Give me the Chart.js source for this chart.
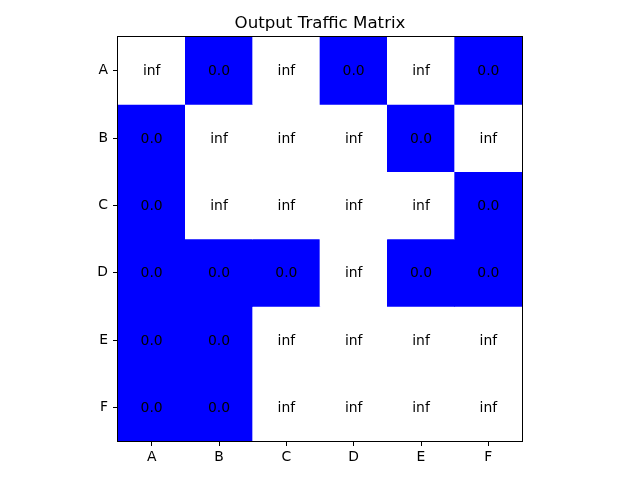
<!DOCTYPE html>
<html>
<head>
<meta charset="utf-8">
<script src="https://cdn.jsdelivr.net/npm/chart.js@4/dist/chart.umd.min.js"></script>
<style>
  html, body { margin: 0; padding: 0; background: #fff; }
  #chart { display: block; }
</style>
</head>
<body>
<canvas id="chart" width="640" height="480"></canvas>
<script>
// node labels (rows = source, columns = destination)
const rowLabels = ['A', 'B', 'C', 'D', 'E', 'F'];
const colLabels = ['A', 'B', 'C', 'D', 'E', 'F'];

// traffic values per row, Infinity shows as "inf"
const rowA = [Infinity, 0, Infinity, 0, Infinity, 0];
const rowB = [0, Infinity, Infinity, Infinity, 0, Infinity];
const rowC = [0, Infinity, Infinity, Infinity, Infinity, 0];
const rowD = [0, 0, 0, Infinity, 0, 0];
const rowE = [0, 0, Infinity, Infinity, Infinity, Infinity];
const rowF = [0, 0, Infinity, Infinity, Infinity, Infinity];
const matrix = [rowA, rowB, rowC, rowD, rowE, rowF];

const cellColor = v => (isFinite(v) ? '#0000ff' : '#ffffff');
const cellText = v => (isFinite(v) ? v.toFixed(1) : 'inf');

Chart.defaults.font.family = "'DejaVu Sans', sans-serif";
Chart.defaults.color = '#000';

// one floating-bar dataset per row, spanning [r, r+1] on the y scale
const datasets = matrix.map((row, r) => ({
  label: rowLabels[r],
  data: row.map(() => [r, r + 1]),
  backgroundColor: row.map(cellColor),
  borderWidth: 0,
  grouped: false,
  barPercentage: 1,
  categoryPercentage: 1
}));

const cellLabels = {
  id: 'cellLabels',
  afterDatasetsDraw(chart) {
    const { ctx, scales: { x, y } } = chart;
    ctx.save();
    ctx.font = "13.9px 'DejaVu Sans'";
    ctx.fillStyle = '#000';
    ctx.textAlign = 'center';
    ctx.textBaseline = 'middle';
    matrix.forEach((row, r) => {
      row.forEach((v, c) => {
        // +1 px so the glyphs sit like matplotlib's centred text
        ctx.fillText(cellText(v), x.getPixelForValue(c), y.getPixelForValue(r + 0.5) + 1);
      });
    });
    ctx.restore();
  }
};

const frame = {
  id: 'frame',
  afterDraw(chart) {
    const { ctx, chartArea: a } = chart;
    ctx.save();
    ctx.strokeStyle = '#000';
    ctx.lineWidth = 1;
    ctx.strokeRect(Math.round(a.left) - 0.5, Math.round(a.top) - 0.5,
      Math.round(a.right - a.left) + 1, Math.round(a.bottom - a.top) + 1);
    ctx.restore();
  }
};

new Chart(document.getElementById('chart'), {
  type: 'bar',
  data: { labels: colLabels, datasets },
  plugins: [cellLabels, frame],
  options: {
    responsive: false,
    animation: false,
    layout: { padding: 0 },
    plugins: {
      legend: { display: false },
      tooltip: { enabled: false },
      title: {
        display: true,
        text: 'Output Traffic Matrix',
        color: '#000',
        font: { size: 16.67, weight: 'normal' },
        padding: { top: 14, bottom: 3 }
      }
    },
    scales: {
      x: {
        type: 'category',
        offset: true,
        border: { display: false },
        grid: { offset: false, drawOnChartArea: false, drawTicks: true, tickLength: 5, tickColor: '#000' },
        ticks: { font: { size: 13.9 }, color: '#000', padding: 3, maxRotation: 0 },
        afterFit(scale) { scale.height = 39; }
      },
      y: {
        type: 'linear',
        min: 0,
        max: 6,
        reverse: true,
        border: { display: false },
        grid: { drawOnChartArea: false, drawTicks: true, tickLength: 5, tickColor: '#000' },
        afterBuildTicks(scale) {
          scale.ticks = rowLabels.map((_, i) => ({ value: i + 0.5 }));
        },
        ticks: {
          font: { size: 13.9 },
          color: '#000',
          padding: 5,
          callback: (value) => rowLabels[Math.floor(value)]
        },
        afterFit(scale) { scale.width = 118; }
      },
      // empty right-hand axis, only keeps the square plot centred
      yRight: {
        type: 'linear',
        position: 'right',
        display: true,
        border: { display: false },
        grid: { display: false },
        ticks: { display: false },
        afterFit(scale) { scale.width = 118; }
      }
    }
  }
});
</script>
</body>
</html>
